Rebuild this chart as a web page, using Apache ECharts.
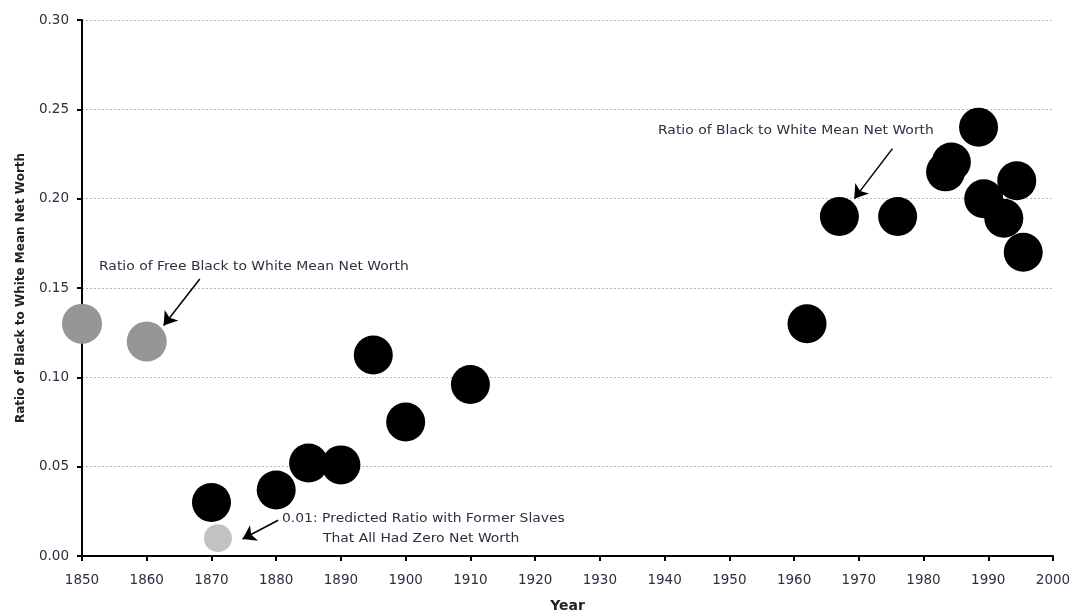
<!DOCTYPE html>
<html><head><meta charset="utf-8">
<script src="https://cdn.jsdelivr.net/npm/echarts@6/dist/echarts.min.js"></script>
<style>html,body{margin:0;padding:0;background:#fff}#c{width:1077px;height:614px}</style>
</head><body><div id="c"></div>
<script>
// Years / ratios
const blackYears  = [1870, 1880, 1885, 1890, 1895, 1900, 1910, 1962, 1967, 1976, 1983.4, 1984.3, 1988.5, 1989.3, 1992.4, 1994.4, 1995.4];
const blackRatios = [0.030, 0.037, 0.052, 0.051, 0.1125, 0.075, 0.096, 0.130, 0.190, 0.190, 0.215, 0.2205, 0.240, 0.200, 0.189, 0.210, 0.170];
const freeYears  = [1850, 1860];
const freeRatios = [0.130, 0.120];
const predYears  = [1871];
const predRatios = [0.010];
const xTicks = [1850,1860,1870,1880,1890,1900,1910,1920,1930,1940,1950,1960,1970,1980,1990,2000];
const yTicks = [0.00,0.05,0.10,0.15,0.20,0.25,0.30];
// annotation arrows [from, to] in data coordinates
const arrows = [
  [[1868.2, 0.155], [1862.6, 0.129]],
  [[1975.2, 0.228], [1969.3, 0.200]]
];
const curvedArrow = [[1880.3, 0.020], [1874.8, 0.0095]];

const zip = (a, b) => a.map((v, i) => [v, b[i]]);
const font = '"DejaVu Sans", Verdana, sans-serif';
const txt = '#2a3040';

const chart = echarts.init(document.getElementById('c'), null, {renderer: 'canvas'});
const note = (text, left, top) => ({
  type: 'text', left, top, scaleX: 1.07,
  style: {text, font: '13px ' + font, fill: txt}
});
chart.setOption({
  animation: false,
  backgroundColor: '#fff',
  grid: {left: 82, right: 24, top: 20, bottom: 58, containLabel: false, outerBoundsMode: 'none'},
  xAxis: {
    type: 'value', min: 1850, max: 2000, interval: 10,
    name: 'Year', nameLocation: 'middle', nameGap: 43,
    nameTextStyle: {fontFamily: font, fontWeight: 'bold', fontSize: 14, color: '#222'},
    axisLine: {lineStyle: {color: '#000', width: 2}},
    axisTick: {show: true, length: 5, lineStyle: {color: '#000', width: 2}},
    axisLabel: {fontFamily: font, fontSize: 13.5, color: txt, margin: 17,
      formatter: v => xTicks.includes(v) ? String(v) : ''},
    splitLine: {show: false}
  },
  yAxis: {
    type: 'value', min: 0, max: 0.30, interval: 0.05,
    name: 'Ratio of Black to White Mean Net Worth', nameLocation: 'middle', nameGap: 55,
    nameRotate: 90,
    nameTextStyle: {fontFamily: font, fontWeight: 'bold', fontSize: 12, color: '#222'},
    axisLine: {show: true, lineStyle: {color: '#000', width: 2}},
    axisTick: {show: true, length: 5, lineStyle: {color: '#000', width: 2}},
    axisLabel: {fontFamily: font, fontSize: 13.5, color: txt, margin: 13,
      formatter: v => yTicks.find(t => Math.abs(t - v) < 1e-9).toFixed(2)},
    splitLine: {show: true, lineStyle: {color: '#b8b8b8', type: [2, 2], width: 1}}
  },
  series: [
    {type: 'scatter', clip: false, symbolSize: 40, data: zip(freeYears, freeRatios),
     itemStyle: {color: '#969696', opacity: 1}},
    {type: 'scatter', clip: false, symbolSize: 28, data: zip(predYears, predRatios),
     itemStyle: {color: '#c2c2c2', opacity: 1}},
    {type: 'scatter', clip: false, symbolSize: 39, data: zip(blackYears, blackRatios),
     itemStyle: {color: '#000', opacity: 1}},
    {type: 'line', data: [], silent: true,
     markLine: {
       silent: true, animation: false,
       symbol: ['none', 'arrow'], symbolSize: 13,
       label: {show: false},
       lineStyle: {color: '#000', width: 1.5, type: 'solid'},
       data: arrows.map(a => [{coord: a[0]}, {coord: a[1]}])
     }},
    {type: 'line', data: [], silent: true,
     markLine: {
       silent: true, animation: false,
       symbol: ['none', 'arrow'], symbolSize: 13,
       label: {show: false},
       lineStyle: {color: '#000', width: 1.5, type: 'solid', curveness: 0.3},
       data: [[{coord: curvedArrow[0]}, {coord: curvedArrow[1]}]]
     }}
  ],
  graphic: [
    note('Ratio of Free Black to White Mean Net Worth', 99, 260),
    note('Ratio of Black to White Mean Net Worth', 658, 124),
    note('0.01: Predicted Ratio with Former Slaves', 282, 512),
    note('That All Had Zero Net Worth', 323, 532)
  ]
});
</script></body></html>
